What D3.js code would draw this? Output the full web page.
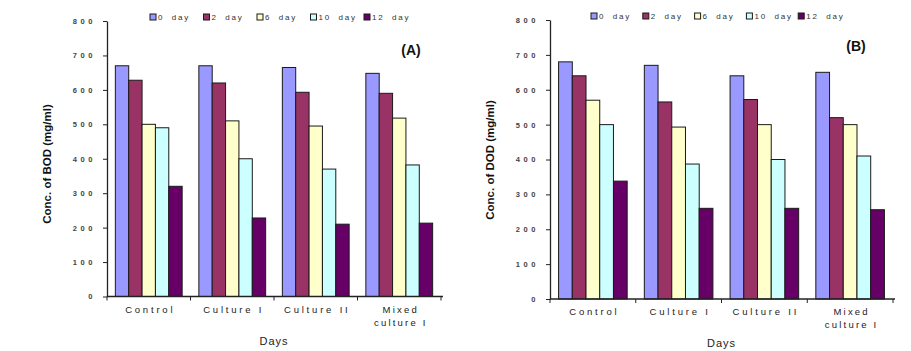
<!DOCTYPE html>
<html>
<head>
<meta charset="utf-8">
<script src="https://cdn.jsdelivr.net/npm/d3@7"></script>
<style>
	body { margin: 0; background: #fff; }
	svg { display: block; font-family: "Liberation Sans", Arial, sans-serif; }
</style>
</head>
<body>
<svg id="chart" width="911" height="351"></svg>
<script>
// values (A = BOD, B = DOD)
const categories = ["Control", "Culture I", "Culture II", "Mixed culture I"];
const seriesNames = ["0 day", "2 day", "6 day", "10 day", "12 day"];
const seriesColors = ["#9999ff", "#993366", "#ffffcc", "#ccffff", "#660066"];
const yTicks = [0, 100, 200, 300, 400, 500, 600, 700, 800];

const bodDay0 = [670, 670, 665, 648];
const bodDay2 = [628, 620, 593, 590];
const bodDay6 = [500, 510, 495, 518];
const bodDay10 = [490, 400, 370, 382];
const bodDay12 = [320, 228, 210, 213];

const dodDay0 = [680, 670, 640, 650];
const dodDay2 = [640, 565, 572, 520];
const dodDay6 = [570, 493, 500, 500];
const dodDay10 = [500, 387, 400, 410];
const dodDay12 = [338, 260, 260, 256];


/////////////////////////////////////////////////////////
/////////////////-----PANELS-----////////////////////////
/////////////////////////////////////////////////////////
let panels = [
	{
		tag: "(A)",
		yTitle: "Conc. of BOD (mg/ml)",
		series: [bodDay0, bodDay2, bodDay6, bodDay10, bodDay12],
		x0: 107, x1: 441, yTop: 21, yBottom: 296.5,
		legendX: 150, legendStep: 53.5, legendY: 17,
		tagX: 411, tagY: 50,
		yTitleX: 47, yTitleY: 164
	},
	{
		tag: "(B)",
		yTitle: "Conc. of DOD (mg/ml)",
		series: [dodDay0, dodDay2, dodDay6, dodDay10, dodDay12],
		x0: 550, x1: 893, yTop: 20, yBottom: 299,
		legendX: 591, legendStep: 51.8, legendY: 16,
		tagX: 856, tagY: 46,
		yTitleX: 490, yTitleY: 160
	}
];

let svg = d3.select("#chart");

function drawPanel(p) {
	let g = svg.append("g");

	let x = d3.scaleBand().domain(categories).range([p.x0, p.x1]).paddingInner(0.2).paddingOuter(0.1);
	let xs = d3.scaleBand().domain(seriesNames).range([0, x.bandwidth()]);
	let y = d3.scaleLinear().domain([0, 800]).range([p.yBottom, p.yTop]);

	// bars
	p.series.forEach(function(vals, si) {
		g.append("g").selectAll("rect").data(vals).enter().append("rect")
		.attr("x", function(d, i) { return x(categories[i]) + xs(seriesNames[si]); })
		.attr("y", function(d) { return y(d); })
		.attr("width", xs.bandwidth())
		.attr("height", function(d) { return y(0) - y(d); })
		.attr("fill", seriesColors[si])
		.attr("stroke", "#1a1a1a")
		.attr("stroke-width", 1);
	});

	// y axis
	let ya = g.append("g").attr("transform", "translate(" + p.x0 + ",0)")
	.call(d3.axisLeft(y).tickValues(yTicks).tickSize(4).tickPadding(7).tickSizeOuter(0));
	ya.select(".domain").attr("stroke", "#222").attr("stroke-width", 1.3);
	ya.selectAll(".tick line").attr("stroke", "#222");
	ya.selectAll("text")
	.attr("font-size", 7.5).attr("font-weight", "bold").attr("fill", "#444")
	.attr("font-family", "Liberation Sans, Arial, sans-serif")
	.style("letter-spacing", "3.6px");

	// x axis line and ticks between groups
	g.append("line")
	.attr("x1", p.x0).attr("x2", p.x1 + 2)
	.attr("y1", y(0)).attr("y2", y(0))
	.attr("stroke", "#222").attr("stroke-width", 1.3);

	let step = x.step();
	let bounds = d3.range(categories.length + 1).map(function(i) { return p.x0 + i * step; });
	g.append("g").selectAll("line").data(bounds).enter().append("line")
	.attr("x1", function(d) { return d; }).attr("x2", function(d) { return d; })
	.attr("y1", y(0)).attr("y2", y(0) + 4)
	.attr("stroke", "#222");

	// category labels (long one wraps)
	categories.forEach(function(c) {
		let lines = c.length > 11 ? [c.slice(0, c.indexOf(" ")), c.slice(c.indexOf(" ") + 1)] : [c];
		let cx = x(c) + x.bandwidth() / 2 + 1.5;
		let t = g.append("text")
		.attr("x", cx)
		.attr("y", y(0) + 16)
		.attr("text-anchor", "middle")
		.attr("font-size", 9.5)
		.attr("fill", "#222")
		.style("letter-spacing", lines.length > 1 ? "2.2px" : "2.8px");
		lines.forEach(function(l, li) {
			t.append("tspan").attr("x", cx).attr("dy", li ? 13 : 0).text(l);
		});
	});

	// axis titles
	g.append("text")
	.attr("x", (p.x0 + p.x1) / 2)
	.attr("y", y(0) + 48)
	.attr("text-anchor", "middle")
	.attr("font-size", 11)
	.attr("fill", "#222")
	.style("letter-spacing", "1px")
	.text("Days");

	g.append("text")
	.attr("transform", "translate(" + p.yTitleX + "," + p.yTitleY + ") rotate(-90)")
	.attr("text-anchor", "middle")
	.attr("dy", "0.35em")
	.attr("font-size", 11.5)
	.attr("font-weight", "bold")
	.attr("fill", "#111")
	.text(p.yTitle);

	// panel tag
	g.append("text")
	.attr("x", p.tagX).attr("y", p.tagY)
	.attr("dy", "0.35em")
	.attr("text-anchor", "middle")
	.attr("font-size", 14)
	.attr("font-weight", "bold")
	.attr("fill", "#111")
	.text(p.tag);

	// legend
	let lx = d3.scalePoint().domain(seriesNames).range([p.legendX, p.legendX + p.legendStep * (seriesNames.length - 1)]);
	let items = g.append("g").selectAll("g").data(seriesNames).enter().append("g")
	.attr("transform", function(d) { return "translate(" + lx(d) + "," + p.legendY + ")"; });
	items.append("rect")
	.attr("x", 0).attr("y", -3).attr("width", 6).attr("height", 6)
	.attr("fill", function(d, i) { return seriesColors[i]; })
	.attr("stroke", "#1a1a1a").attr("stroke-width", 1);
	items.append("text")
	.attr("x", 8).attr("dy", "0.35em")
	.attr("font-size", 8)
	.attr("fill", "#333")
	.style("letter-spacing", "1.8px")
	.style("word-spacing", "3.5px")
	.text(function(d) { return d; });
}

panels.forEach(drawPanel);
</script>
</body>
</html>
